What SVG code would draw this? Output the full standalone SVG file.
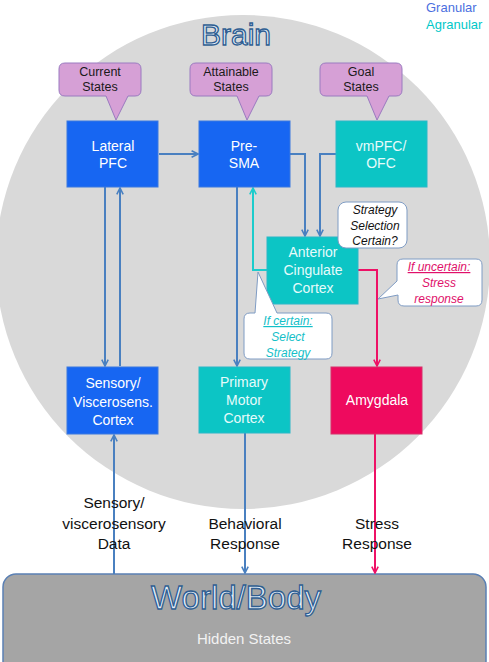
<svg xmlns="http://www.w3.org/2000/svg" width="489" height="662" viewBox="0 0 489 662">
<defs>
<marker id="aBlue" viewBox="0 0 10 10" refX="9" refY="5" markerWidth="8" markerHeight="8" markerUnits="userSpaceOnUse" orient="auto">
<path d="M1,1 L9,5 L1,9" fill="none" stroke="#4a80c0" stroke-width="2"/>
</marker>
<marker id="aTeal" viewBox="0 0 10 10" refX="9" refY="5" markerWidth="8" markerHeight="8" markerUnits="userSpaceOnUse" orient="auto">
<path d="M1,1 L9,5 L1,9" fill="none" stroke="#1ccccc" stroke-width="2"/>
</marker>
<marker id="aPink" viewBox="0 0 10 10" refX="9" refY="5" markerWidth="8" markerHeight="8" markerUnits="userSpaceOnUse" orient="auto">
<path d="M1,1 L9,5 L1,9" fill="none" stroke="#ee1166" stroke-width="2"/>
</marker>
</defs>
<style>
text{font-family:"Liberation Sans",Arial,sans-serif}
.blue{fill:#1766f2;stroke:#3a78e0;stroke-width:1}
.teal{fill:#0cc5c5;stroke:#2ab8c8;stroke-width:1}
.pink{fill:#ee0a5e;stroke:#d8306a;stroke-width:1}
.bt{font-size:14px;fill:#ffffff;text-anchor:middle}
.tt{font-size:14px;fill:#e6fbfb;text-anchor:middle}
.call{fill:#d6a0d6;stroke:#9a7ac0;stroke-width:1}
.ct{font-size:12.5px;fill:#1a1a1a;text-anchor:middle}
.wc{fill:#ffffff;stroke:#7f9cc4;stroke-width:1}
.it{font-size:12px;font-style:italic;text-anchor:middle}
.lbl{font-size:15.5px;fill:#111111;text-anchor:middle}
.cb{fill:none;stroke:#4a80c0;stroke-width:2;marker-end:url(#aBlue)}
.ctl{fill:none;stroke:#1ccccc;stroke-width:2;marker-end:url(#aTeal)}
.cp{fill:none;stroke:#ee1166;stroke-width:2;marker-end:url(#aPink)}
.outline{fill:#e4eef9;stroke:#2f5e92;stroke-width:1.3;text-anchor:middle}
</style>
<rect width="489" height="662" fill="#ffffff"/>
<circle cx="243" cy="262" r="247" fill="#d9d9d9"/>
<text x="236" y="45" class="outline" font-size="30">Brain</text>
<text x="426" y="12" font-size="13" fill="#4b6fe0">Granular</text>
<text x="426" y="29" font-size="13" fill="#00c8c8">Agranular</text>

<g id="world">
<rect x="3" y="574" width="483" height="100" rx="13" fill="#a5a5a5" stroke="#5b80b4" stroke-width="1.5"/>
<text x="236" y="609" class="outline" font-size="33">World/Body</text>
<text x="244" y="644" font-size="15" fill="#f2f2f2" text-anchor="middle">Hidden States</text>
</g>

<g id="connectors">
<path class="cb" d="M159,154 H198"/>
<path class="cb" d="M290,154 H305 V236"/>
<path class="cb" d="M336,154 H320 V236"/>
<path class="cb" d="M105,187 V366"/>
<path class="cb" d="M120,366 V188"/>
<path class="cb" d="M237,187 V366"/>
<path class="ctl" d="M267,270 H253 V188"/>
<path class="cp" d="M358,270 H377 V366"/>
<path class="cb" d="M114,574 V435"/>
<path class="cb" d="M245,433 V573"/>
<path class="cp" d="M375,434 V573"/>
</g>

<g id="current-states">
<path class="call" d="M65,63 H135 Q141,63 141,69 V90 Q141,96 135,96 H128 L116,120 L106,96 H65 Q59,96 59,90 V69 Q59,63 65,63 Z"/>
<text class="ct" x="100" y="76">Current</text>
<text class="ct" x="100" y="91">States</text>
</g>
<g id="attainable-states">
<path class="call" d="M196,63 H266 Q272,63 272,69 V90 Q272,96 266,96 H259 L247,120 L237,96 H196 Q190,96 190,90 V69 Q190,63 196,63 Z"/>
<text class="ct" x="231" y="76">Attainable</text>
<text class="ct" x="231" y="91">States</text>
</g>
<g id="goal-states">
<path class="call" d="M326,63 H396 Q402,63 402,69 V90 Q402,96 396,96 H389 L377,120 L367,96 H326 Q320,96 320,90 V69 Q320,63 326,63 Z"/>
<text class="ct" x="361" y="76">Goal</text>
<text class="ct" x="361" y="91">States</text>
</g>

<g id="lateral-pfc">
<rect class="blue" x="67" y="121" width="91" height="66"/>
<text class="bt" x="113" y="151">Lateral</text>
<text class="bt" x="113" y="168">PFC</text>
</g>
<g id="pre-sma">
<rect class="blue" x="199" y="121" width="91" height="66"/>
<text class="bt" x="244" y="151">Pre-</text>
<text class="bt" x="244" y="168">SMA</text>
</g>
<g id="vmpfc">
<rect class="teal" x="336" y="121" width="91" height="66"/>
<text class="tt" x="381" y="151">vmPFC/</text>
<text class="tt" x="381" y="168">OFC</text>
</g>

<g id="acc">
<rect class="teal" x="267" y="237" width="91" height="67"/>
<text class="tt" x="313" y="257">Anterior</text>
<text class="tt" x="313" y="275">Cingulate</text>
<text class="tt" x="313" y="293">Cortex</text>
</g>

<g id="strategy-callout">
<rect class="wc" x="338" y="202" width="69" height="46" rx="8"/>
<text class="it" x="375" y="214" fill="#111111">Strategy</text>
<text class="it" x="375" y="230" fill="#111111">Selection</text>
<text class="it" x="375" y="245" fill="#111111">Certain?</text>
</g>

<g id="if-uncertain">
<path class="wc" d="M403,259 H476 Q482,259 482,265 V300 Q482,306 476,306 H404 Q398,306 398,300 V295 L378,299 L397,281 V265 Q397,259 403,259 Z"/>
<text class="it" x="439" y="271" fill="#e0106a" text-decoration="underline">If uncertain:</text>
<text class="it" x="439" y="287" fill="#e0106a">Stress</text>
<text class="it" x="439" y="303" fill="#e0106a">response</text>
</g>

<g id="if-certain">
<path class="wc" d="M250,313 H255 L258,272 L277,313 H326 Q332,313 332,319 V353 Q332,359 326,359 H250 Q244,359 244,353 V319 Q244,313 250,313 Z"/>
<text class="it" x="288" y="325" fill="#14c0c8" text-decoration="underline">If certain:</text>
<text class="it" x="288" y="341" fill="#14c0c8">Select</text>
<text class="it" x="288" y="357" fill="#14c0c8">Strategy</text>
</g>

<g id="sensory">
<rect class="blue" x="67" y="367" width="91" height="67"/>
<text class="bt" x="113" y="388">Sensory/</text>
<text class="bt" x="113" y="407">Viscerosens.</text>
<text class="bt" x="113" y="425">Cortex</text>
</g>
<g id="motor">
<rect class="teal" x="199" y="367" width="91" height="66"/>
<text class="tt" x="244" y="387">Primary</text>
<text class="tt" x="244" y="405">Motor</text>
<text class="tt" x="244" y="423">Cortex</text>
</g>
<g id="amygdala">
<rect class="pink" x="331" y="367" width="91" height="67"/>
<text class="bt" x="377" y="405">Amygdala</text>
</g>

<g id="labels">
<text class="lbl" x="114" y="508">Sensory/</text>
<text class="lbl" x="114" y="529">viscerosensory</text>
<text class="lbl" x="114" y="549">Data</text>
<text class="lbl" x="245" y="529">Behavioral</text>
<text class="lbl" x="245" y="549">Response</text>
<text class="lbl" x="377" y="529">Stress</text>
<text class="lbl" x="377" y="549">Response</text>
</g>
</svg>
